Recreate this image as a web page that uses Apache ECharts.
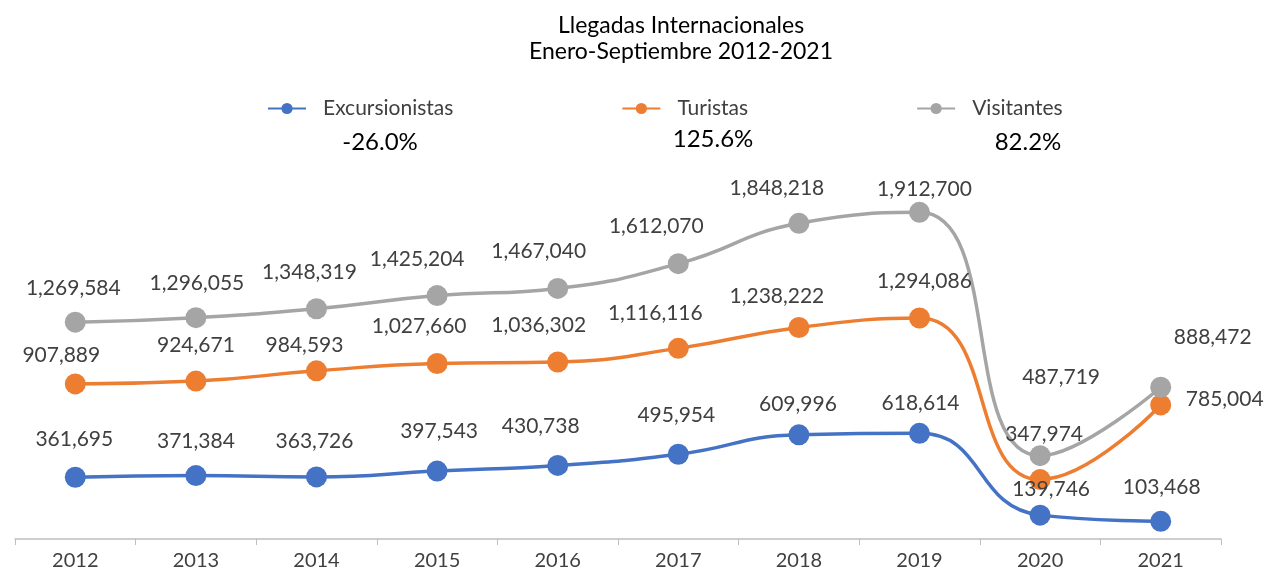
<!DOCTYPE html>
<html>
<head>
<meta charset="utf-8">
<script src="https://cdn.jsdelivr.net/npm/echarts@6/dist/echarts.min.js"></script>
<style>
  html, body { margin: 0; padding: 0; background: #fff; }
  #main { width: 1266px; height: 575px; }
</style>
</head>
<body>
<div id="main"></div>
<script>
var years = ['2012', '2013', '2014', '2015', '2016', '2017', '2018', '2019', '2020', '2021'];
var excursionistas = [361695, 371384, 363726, 397543, 430738, 495954, 609996, 618614, 139746, 103468];
var turistas = [907889, 924671, 984593, 1027660, 1036302, 1116116, 1238222, 1294086, 347974, 785004];
var visitantes = [1269584, 1296055, 1348319, 1425204, 1467040, 1612070, 1848218, 1912700, 487719, 888472];
var variaciones = ['-26.0%', '125.6%', '82.2%'];

// desplazamiento de cada etiqueta respecto a su punto
var offExc = [[-1,-38],[0,-34],[-2,-36],[2,-40],[-17,-39],[-2,-39],[-1,-31],[1,-30],[11,-26],[1,-34]];
var offTur = [[-14,-29],[0,-36],[-12,-26],[-18,-37],[-19,-37],[-23,-35],[-22,-31],[5,-37],[4,-45],[64,-6]];
var offVis = [[-2,-34],[1,-34],[-7,-36],[-20,-36],[-19,-37],[-22,-37],[-22,-35],[5,-23],[21,-78],[52,-50]];
// centro de cada texto de variación
var posVar = [[380, 142], [713, 139], [1028, 142]];

var myChart = echarts.init(document.getElementById('main'));

function puntos(valores, offsets) {
    return valores.map(function (v, i) {
        return { value: v, label: { offset: offsets[i] } };
    });
}

function serie(nombre, color, valores, offsets) {
    return {
        name: nombre,
        type: 'line',
        smooth: 0.5,
        data: puntos(valores, offsets),
        symbol: 'circle',
        symbolSize: 21,
        lineStyle: { color: color, width: 3.5 },
        itemStyle: { color: color },
        label: {
            show: true,
            position: 'inside',
            color: '#404040',
            fontFamily: 'Lato, sans-serif',
            fontSize: 21,
            formatter: function (p) {
                return p.value.toLocaleString('en-US');
            }
        }
    };
}

var option = {
    animation: false,
    title: {
        text: 'Llegadas Internacionales\nEnero-Septiembre 2012-2021',
        left: 676,
        top: 8,
        textAlign: 'center',
        textStyle: {
            color: '#000',
            fontFamily: 'Lato, sans-serif',
            fontWeight: 'normal',
            fontSize: 23,
            lineHeight: 26
        }
    },
    legend: {
        data: ['Excursionistas', 'Turistas', 'Visitantes'],
        left: 262,
        top: 93,
        itemWidth: 38,
        itemHeight: 14,
        itemGap: 168,
        textStyle: {
            color: '#404040',
            fontFamily: 'Lato, sans-serif',
            fontSize: 21,
            padding: [0, 0, 0, 12]
        }
    },
    graphic: variaciones.map(function (t, i) {
        return {
            type: 'text',
            x: posVar[i][0],
            y: posVar[i][1],
            style: {
                text: t,
                fill: '#000',
                font: '24px Lato, sans-serif',
                textAlign: 'center',
                textVerticalAlign: 'middle'
            }
        };
    }),
    grid: { left: 15, right: 45, top: 112, bottom: 36 },
    xAxis: {
        type: 'category',
        data: years,
        boundaryGap: true,
        axisLine: { lineStyle: { color: '#bfbfbf', width: 1.5 } },
        axisTick: { show: true, length: 6, lineStyle: { color: '#bfbfbf' } },
        axisLabel: {
            color: '#404040',
            fontFamily: 'Lato, sans-serif',
            fontSize: 20,
            margin: 12
        }
    },
    yAxis: {
        type: 'value',
        min: 0,
        max: 2500000,
        show: false,
        splitLine: { show: false }
    },
    series: [
        serie('Excursionistas', '#4472C4', excursionistas, offExc),
        serie('Turistas', '#ED7D31', turistas, offTur),
        serie('Visitantes', '#A5A5A5', visitantes, offVis)
    ]
};

myChart.setOption(option);
</script>
</body>
</html>
